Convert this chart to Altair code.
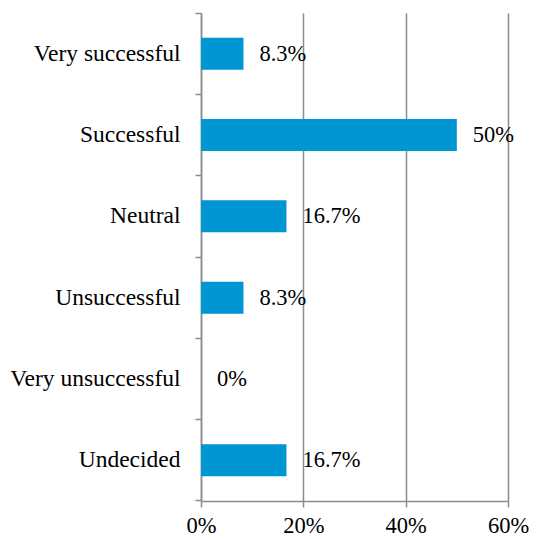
import altair as alt
import pandas as pd

categories = ["Very successful", "Successful", "Neutral", "Unsuccessful", "Very unsuccessful", "Undecided"]
values = [0.083, 0.50, 0.167, 0.083, 0.0, 0.167]
labels = ["8.3%", "50%", "16.7%", "8.3%", "0%", "16.7%"]
x_ticks = [0, 0.2, 0.4, 0.6]

df = pd.DataFrame({"cat": categories, "val": values, "lab": labels})

FONT = "Liberation Serif, DejaVu Serif, serif"
GRAY = "#8c8c8c"

y_enc = alt.Y("cat:N", sort=categories, title=None,
              scale=alt.Scale(paddingInner=0, paddingOuter=0),
              axis=alt.Axis(domainColor=GRAY, domainWidth=1.5, tickColor=GRAY, tickWidth=1.5,
                            tickSize=6, bandPosition=1, tickExtra=True,
                            labelFont=FONT, labelFontSize=23.5, labelColor="black",
                            labelPadding=15, grid=False))
x_enc = alt.X("val:Q", title=None,
              scale=alt.Scale(domain=[0, 0.6], nice=False),
              axis=alt.Axis(values=x_ticks, format=".0%", grid=True, gridColor=GRAY, gridWidth=1.5,
                            domainColor=GRAY, domainWidth=1.5, tickColor=GRAY, tickWidth=1.5,
                            tickSize=6, labelFont=FONT, labelFontSize=22.5, labelColor="black",
                            labelPadding=7, labelFlush=False))

bars = alt.Chart(df).mark_bar(color="#0095D3", size=32).encode(x=x_enc, y=y_enc)
text = alt.Chart(df).mark_text(align="left", baseline="middle", dx=16, font=FONT,
                               fontSize=22.5, color="black").encode(x="val:Q", y=alt.Y("cat:N", sort=categories), text="lab:N")

chart = alt.layer(bars, text).properties(
    width=307, height=488,
    autosize=alt.AutoSizeParams(type="none"),
    padding={"left": 193, "top": 5, "right": 21, "bottom": 33},
).configure(font=FONT).configure_view(stroke=None)

chart.save("out.html", embed_options={"renderer": "svg", "actions": False})
